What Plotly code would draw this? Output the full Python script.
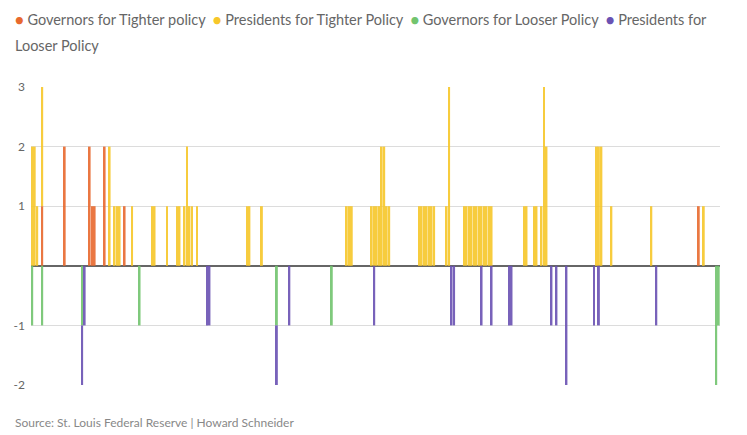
import plotly.graph_objects as go

# Meeting index (position along the timeline) and number of dissents
gov_tight_x = [4, 13, 23, 24, 25, 29, 37, 267]
gov_tight_v = [1, 2, 2, 1, 1, 2, 1, 1]

pres_tight_x = [0, 1, 2, 4, 31, 33, 34, 35, 40, 48, 49, 54, 58, 59, 61, 62, 63, 64, 66,
                86, 87, 92, 126, 127, 128, 136, 137, 138, 139, 140, 141, 142, 143,
                155, 156, 157, 158, 159, 160, 161, 166, 167,
                173, 174, 175, 176, 177, 178, 179, 180, 181, 182, 183, 184,
                197, 198, 201, 202, 204, 205, 206, 226, 227, 228, 232, 248, 269]
pres_tight_v = [2, 2, 1, 2, 2, 1, 1, 1, 1, 1, 1, 1, 1, 1, 1, 2, 1, 1, 1,
                1, 1, 1, 1, 1, 1, 1, 1, 1, 1, 2, 2, 1, 1,
                1, 1, 1, 1, 1, 1, 1, 1, 3,
                1, 1, 1, 1, 1, 1, 1, 1, 1, 1, 1, 1,
                1, 1, 1, 1, 1, 3, 2, 2, 2, 2, 1, 1, 1]

gov_loose_x = [0, 4, 20, 43, 98, 120, 274, 275]
gov_loose_v = [-1, -1, -1, -1, -1, -1, -2, -1]

pres_loose_x = [20, 21, 70, 71, 98, 103, 137, 168, 169, 180, 184, 191, 192,
                208, 210, 214, 225, 227, 250]
pres_loose_v = [-1, -1, -1, -1, -1, -1, -1, -1, -1, -1, -1, -1, -1,
                -1, -1, -2, -1, -1, -1]

n_meetings = 276
y_ticks = [3, 2, 1, -1, -2]

names = ["Governors for Tighter policy", "Presidents for Tighter Policy",
         "Governors for Looser Policy", "Presidents for Looser Policy"]
colors = ["#e8692e", "#f7c72a", "#72c46e", "#6a52b3"]
series = [(gov_tight_x, gov_tight_v), (pres_tight_x, pres_tight_v),
          (gov_loose_x, gov_loose_v), (pres_loose_x, pres_loose_v)]

fig = go.Figure()
for name, col, (xs, vs) in zip(names, colors, series):
    fig.add_trace(go.Bar(x=xs, y=vs, name=name, marker=dict(color=col, line_width=0),
                         opacity=0.9, showlegend=False))

legend_line1 = (
    f'<span style="color:{colors[0]}">●</span> {names[0]}  '
    f'<span style="color:{colors[1]}">●</span> {names[1]}  '
    f'<span style="color:{colors[2]}">●</span> {names[2]}  '
    f'<span style="color:{colors[3]}">●</span> Presidents for'
)
legend_line2 = "Looser Policy"

# page body adds an 8px margin, so the figure is 8px smaller and offsets compensate
W, H = 739, 427
L, T, PW, PH = 23, 79, 689, 298

fig.update_layout(
    width=W, height=H,
    margin=dict(l=L, r=W - L - PW, t=T, b=H - T - PH),
    paper_bgcolor="white", plot_bgcolor="white",
    barmode="relative", bargap=0.25,
    font=dict(family="Lato", size=13, color="#666"),
    xaxis=dict(range=[-0.5, n_meetings - 0.5], showticklabels=False, showgrid=False,
               zeroline=False, showline=False, ticks="", automargin=False),
    yaxis=dict(range=[-2, 3], tickvals=y_ticks, ticktext=[str(t) for t in y_ticks],
               showgrid=True, gridcolor="#dcdcdc", gridwidth=1,
               zeroline=True, zerolinecolor="#666", zerolinewidth=1.5,
               tickfont=dict(size=12, color="#666"), ticks="", ticklabelstandoff=5,
               automargin=False),
    annotations=[
        dict(text=legend_line1, xref="paper", yref="paper", x=-18 / PW, y=1 + 67 / PH,
             xanchor="left", yanchor="middle", align="left", showarrow=False,
             font=dict(family="Lato", size=14.5, color="#666")),
        dict(text=legend_line2, xref="paper", yref="paper", x=-18 / PW, y=1 + 41 / PH,
             xanchor="left", yanchor="middle", align="left", showarrow=False,
             font=dict(family="Lato", size=14.5, color="#666")),
        dict(text="Source: St. Louis Federal Reserve | Howard Schneider",
             xref="paper", yref="paper", x=-18 / PW, y=-37 / PH,
             xanchor="left", yanchor="middle", showarrow=False,
             font=dict(family="Lato", size=12, color="#888")),
    ],
)

fig.write_html("out.html")
